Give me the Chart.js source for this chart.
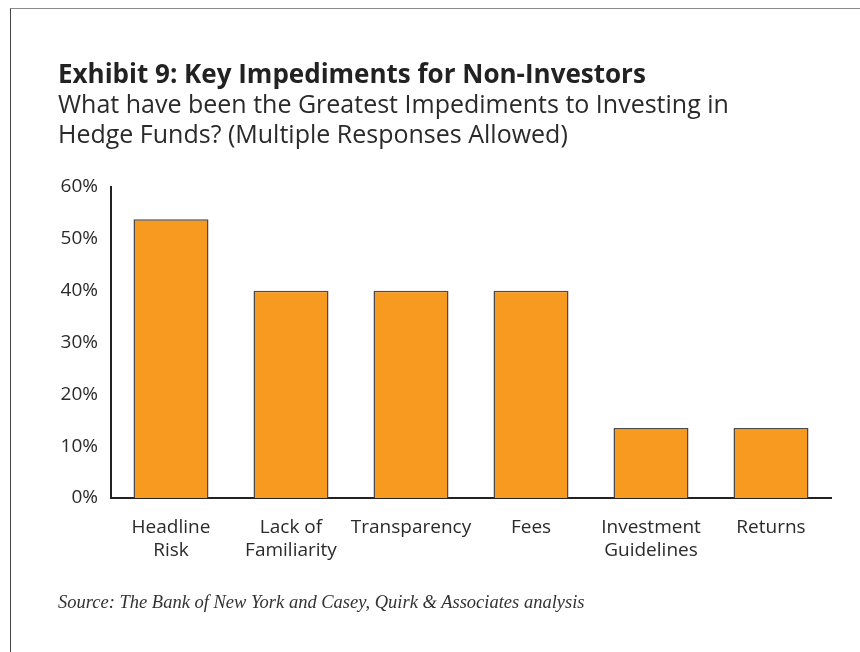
<!doctype html>
<html lang="en">
    <head>
        <meta charset="utf-8">
        <title>Exhibit 9: Key Impediments for Non-Investors</title>
        <script src="https://cdn.jsdelivr.net/npm/chart.js@4.4.1/dist/chart.umd.min.js"></script>
        <style>
            body { margin: 0; background: #fff; }
            #page { position: relative; width: 860px; height: 652px; overflow: hidden; }
            #frame { position: absolute; left: 10px; top: 8px; width: 850px; height: 644px;
                     border-top: 1px solid #8c8c8c; border-left: 1px solid #444; }
            .txt { position: absolute; left: 58px; white-space: nowrap; font-family: "Open Sans", sans-serif; color: #222; }
            #title { top: 58px; font-size: 26px; line-height: 30px; font-weight: bold; }
            #subtitle { top: 88px; font-size: 25px; line-height: 30px; color: #2a2a2a; }
            #source { top: 590px; font-family: "Liberation Serif", serif; font-style: italic; font-size: 18.5px; line-height: 24px; color: #333; }
            #myChart { position: absolute; left: 0; top: 0; }
        </style>
    </head>

    <body>
        <div id="page">
            <div id="frame"></div>
            <canvas id="myChart" width="860" height="652"></canvas>
            <div class="txt" id="title">Exhibit 9: Key Impediments for Non-Investors</div>
            <div class="txt" id="subtitle">What have been the Greatest Impediments to Investing in<br>Hedge Funds? (Multiple Responses Allowed)</div>
            <div class="txt" id="source">Source: The Bank of New York and Casey, Quirk &amp; Associates analysis</div>
        </div>

        <script type="text/javascript">
            // share of non-investors citing each impediment (%)
            var categories = [
                ["Headline", "Risk"],
                ["Lack of", "Familiarity"],
                "Transparency",
                "Fees",
                ["Investment", "Guidelines"],
                "Returns"
            ];
            var responses = [53.8, 40, 40, 40, 13.5, 13.5];
            var yTicks = [0, 10, 20, 30, 40, 50, 60];

            var tickFont = { family: "'Open Sans', sans-serif", size: 19, lineHeight: 1.2 };

            var ctx = document.getElementById("myChart").getContext("2d");
            var myChart = new Chart(ctx, {
                type: "bar",
                data: {
                    labels: categories,
                    datasets: [{
                        data: responses,
                        backgroundColor: "#f79a1f",
                        borderColor: "#4a4a4a",
                        borderWidth: 1.5,
                        barPercentage: 0.625,
                        categoryPercentage: 1
                    }]
                },
                options: {
                    responsive: false,
                    animation: false,
                    devicePixelRatio: 1,
                    layout: { padding: { left: 0, right: 29, top: 187, bottom: 74 } },
                    plugins: {
                        legend: { display: false },
                        tooltip: { enabled: false }
                    },
                    scales: {
                        x: {
                            grid: { display: false, drawTicks: false },
                            border: { display: true, color: "#222", width: 2 },
                            ticks: { color: "#2a2a2a", font: tickFont, padding: 18, maxRotation: 0, autoSkip: false },
                            afterFit: function(scale) { scale.height = 80; }
                        },
                        y: {
                            min: yTicks[0],
                            max: yTicks[yTicks.length - 1],
                            grid: { display: false, drawTicks: false },
                            border: { display: true, color: "#222", width: 2 },
                            afterBuildTicks: function(scale) {
                                scale.ticks = yTicks.map(function(v) { return { value: v }; });
                            },
                            ticks: {
                                color: "#2a2a2a",
                                font: tickFont,
                                padding: 13,
                                callback: function(v) { return v + "%"; }
                            },
                            afterFit: function(scale) { scale.width = 111; }
                        }
                    }
                }
            });
        </script>
    </body>
</html>
